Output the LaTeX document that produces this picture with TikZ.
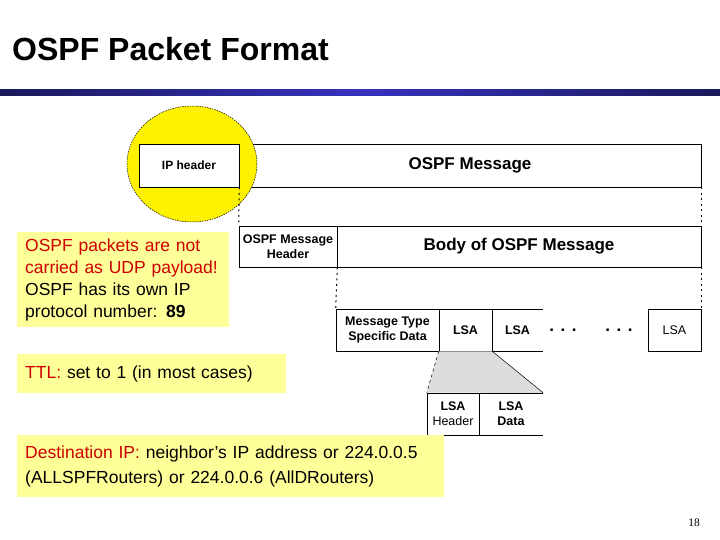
\documentclass[tikz,border=0pt]{standalone}
\usepackage{fontspec}
\setmainfont{Liberation Sans}
\newfontfamily\pagenumfont{Liberation Serif}
\usetikzlibrary{shapes.geometric}
\definecolor{hlred}{RGB}{204,0,0}
\definecolor{noteyellow}{RGB}{255,255,153}
\definecolor{barnavy}{RGB}{25,25,90}
\definecolor{barblue}{RGB}{55,50,190}
\definecolor{trapgray}{RGB}{221,221,221}
\begin{document}
\begin{tikzpicture}[x=1pt,y=-1pt,
  cell/.style={draw=black, line width=0.6pt, fill=white, inner sep=0pt, align=center,
    font=\bfseries\fontsize{12.5}{15}\selectfont},
  opencell/.style={inner sep=0pt, align=center, font=\bfseries\fontsize{12.5}{15}\selectfont},
  bigtext/.style={font=\bfseries\fontsize{17}{20}\selectfont},
  note/.style={fill=noteyellow, anchor=north west, inner xsep=8pt, inner ysep=0pt,
    align=left, font=\fontsize{17.5}{22}\selectfont},
  leader/.style={dash pattern=on 2pt off 3.5pt, line width=1pt},
  edgeline/.style={line width=0.6pt}
]
\useasboundingbox (0,0) rectangle (720,540);

% title and bar
\node[anchor=base west, font=\bfseries\fontsize{32}{38}\selectfont, inner sep=0pt] (title) at (12,61) {OSPF Packet Format};
\shade[left color=barnavy, right color=barnavy, middle color=barblue] (0,90) rectangle (720,96);

% packet rows
\node[cell, bigtext, minimum width=462pt, minimum height=43pt] (msg) at (470,165.5) {OSPF Message};

% highlight spot (over the message row, under the IP header)
\node[ellipse, draw=black, fill=yellow, dash pattern=on 1.5pt off 1pt, line width=0.5pt,
  minimum width=130pt, minimum height=116pt, inner sep=0pt] (spot) at (192,164) {};

\node[cell, minimum width=100pt, minimum height=43pt, font=\bfseries\fontsize{12}{14}\selectfont] (iphdr) at (189,165.5) {IP header};

\node[cell, minimum width=98pt, minimum height=41pt] (msghdr) at (288,246.5) {OSPF Message\\Header};
\node[cell, bigtext, minimum width=364pt, minimum height=41pt] (body) at (519,246.5) {Body of OSPF Message};

\node[cell, minimum width=103pt, minimum height=42pt] (mtsd) at (387.5,330) {Message Type\\Specific Data};
\node[cell, minimum width=53pt, minimum height=42pt] (lsa1) at (465.5,330) {LSA};
\node[opencell, minimum width=51pt, minimum height=42pt] (lsa2) at (517.5,330) {LSA};
\draw[edgeline] (lsa2.north west) -- (lsa2.north east) (lsa2.south west) -- (lsa2.south east);
\node[inner sep=0pt, font=\bfseries\fontsize{17}{20}\selectfont] (dotsa) at (563,330) {.\kern6.5pt.\kern6.5pt.};
\node[inner sep=0pt, font=\bfseries\fontsize{17}{20}\selectfont] (dotsb) at (619,330) {.\kern6.5pt.\kern6.5pt.};
\node[cell, minimum width=53pt, minimum height=42pt, font=\fontsize{12.5}{15}\selectfont] (lsan) at (674.5,330) {LSA};

% LSA detail
\node[cell, minimum width=52pt, minimum height=42pt] (lsah) at (453,414) {LSA\\\mdseries Header};
\node[opencell, minimum width=64pt, minimum height=42pt] (lsad) at (511,414) {LSA\\Data};
\draw[edgeline] (lsad.north west) -- (lsad.north east) (lsad.south west) -- (lsad.south east);
\fill[trapgray] (lsa1.south west) -- (lsa1.south east) -- (lsad.north east) -- (lsah.north west) -- cycle;
\draw[dashed, line width=0.5pt] (lsa1.south west) -- (lsah.north west);
\draw[line width=0.5pt] (lsa1.south east) -- (lsad.north east);

% leaders
\draw[leader] (iphdr.south east) -- (msghdr.north west);
\draw[leader] (msg.south east) -- (body.north east);
\draw[leader] (msghdr.south east) -- (mtsd.north west);
\draw[leader] (body.south east) -- (lsan.north east);

% notes
\node[note, text width=196pt, minimum height=95pt] (why) at (17,232)
  {{\color{hlred}OSPF packets are not}\\{\color{hlred}carried as UDP payload!}\\OSPF has its own IP\\protocol number: \textbf{89}};
\node[note, text width=253pt, minimum height=39pt] (ttl) at (17,354)
  {{\color{hlred}TTL:} set to 1 (in most cases)};
\node[note, text width=411pt, minimum height=62pt, font=\fontsize{17.5}{25}\selectfont] (dst) at (17,435)
  {{\color{hlred}Destination IP:} neighbor’s IP address or 224.0.0.5\\(ALLSPFRouters) or 224.0.0.6 (AllDRouters)};

\node[inner sep=0pt, font=\pagenumfont\fontsize{11.5}{13}\selectfont] (pnum) at (694,523) {18};
\end{tikzpicture}
\end{document}
